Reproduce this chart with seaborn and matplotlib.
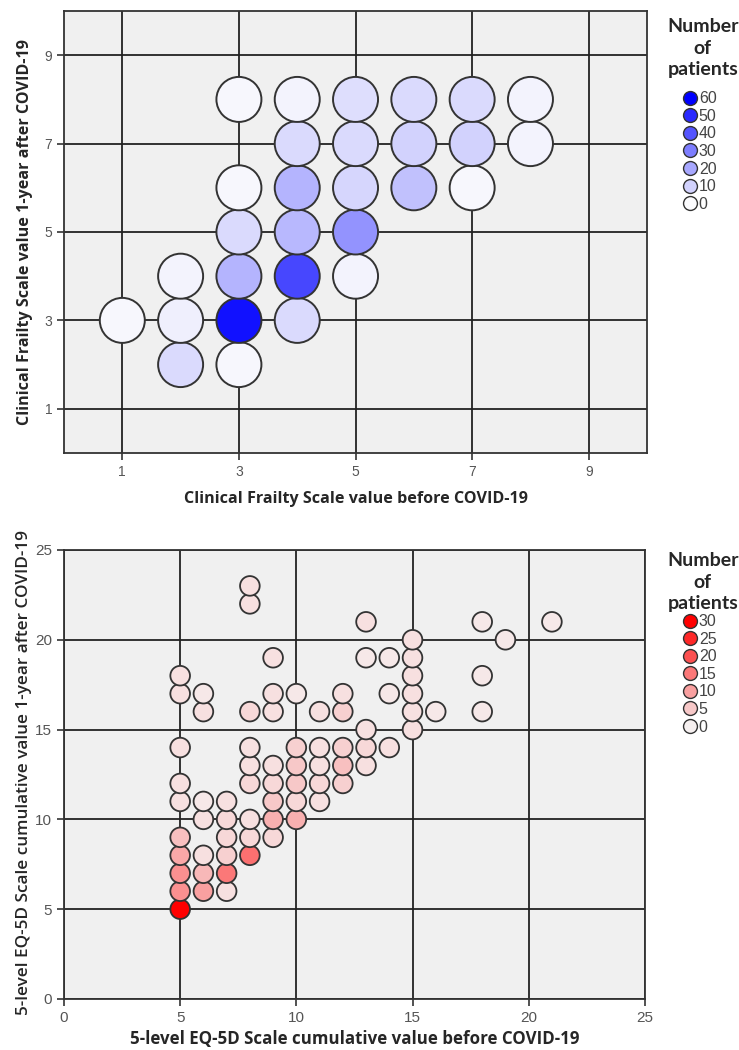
import pandas as pd
import seaborn as sns
import matplotlib.pyplot as plt
from matplotlib.colors import LinearSegmentedColormap, Normalize
from matplotlib.lines import Line2D

# Clinical Frailty Scale: before vs 1-year after, with patient counts
cfs_before = [1, 2, 2, 2, 3, 3, 3, 3, 3, 3, 4, 4, 4, 4, 4, 4, 5, 5, 5, 5, 5, 6, 6, 6, 7, 7, 7, 8, 8]
cfs_after = [3, 2, 3, 4, 2, 3, 4, 5, 6, 8, 3, 4, 5, 6, 7, 8, 4, 5, 6, 7, 8, 6, 7, 8, 6, 7, 8, 7, 8]
cfs_n = [1, 8, 3, 2, 1, 56, 17, 8, 1, 1, 8, 43, 16, 17, 8, 2, 2, 25, 9, 8, 7, 14, 10, 8, 1, 10, 8, 2, 2]
cfs_levels = [60, 50, 40, 30, 20, 10, 0]

# 5-level EQ-5D cumulative value: before vs 1-year after
eq_before = [5, 5, 5, 5, 5, 5, 5, 5, 5, 5,
             6, 6, 6, 6, 6, 6, 6,
             7, 7, 7, 7, 7, 7,
             8, 8, 8, 8, 8, 8, 8, 8, 8,
             9, 9, 9, 9, 9, 9, 9, 9,
             10, 10, 10, 10, 10, 10,
             11, 11, 11, 11, 11,
             12, 12, 12, 12, 12,
             13, 13, 13, 13, 13,
             14, 14, 14,
             15, 15, 15, 15, 15, 15,
             16, 18, 18, 18, 19, 21]
eq_after = [5, 6, 7, 8, 9, 11, 12, 14, 17, 18,
            6, 7, 8, 10, 11, 16, 17,
            6, 7, 8, 9, 10, 11,
            8, 9, 10, 12, 13, 14, 16, 22, 23,
            9, 10, 11, 12, 13, 16, 17, 19,
            10, 11, 12, 13, 14, 17,
            11, 12, 13, 14, 16,
            12, 13, 14, 16, 17,
            13, 14, 15, 19, 21,
            14, 17, 19,
            15, 16, 17, 18, 19, 20,
            16, 16, 18, 21, 20, 21]
eq_n = [30, 12, 12, 9, 6, 2, 2, 2, 2, 2,
        10, 7, 2, 2, 1, 2, 1,
        2, 15, 4, 3, 3, 2,
        16, 3, 2, 3, 2, 2, 3, 2, 2,
        3, 8, 5, 3, 2, 2, 2, 2,
        8, 3, 5, 5, 4, 1,
        2, 3, 2, 2, 2,
        4, 6, 4, 4, 2,
        2, 3, 2, 1, 2,
        2, 1, 1,
        2, 2, 2, 2, 2, 2,
        1, 1, 1, 1, 1, 1]
eq_levels = [30, 25, 20, 15, 10, 5, 0]

cfs = pd.DataFrame({'before': cfs_before, 'after': cfs_after, 'n': cfs_n})
eq = pd.DataFrame({'before': eq_before, 'after': eq_after, 'n': eq_n})

sns.set_style('white')
plt.rcParams['font.family'] = ['Liberation Sans', 'DejaVu Sans']

blues = LinearSegmentedColormap.from_list('wb', ['#fbfbfd', '#0000ff'])
reds = LinearSegmentedColormap.from_list('wr', ['#f6f0f0', '#ff0000'])
lab_font = dict(family=['Open Sans', 'DejaVu Sans'], fontweight='bold')


def style_ax(ax, lim, ticks, tick_size):
    ax.set_facecolor('#f0f0f0')
    ax.set_xlim(lim); ax.set_ylim(lim)
    ax.set_xticks(ticks); ax.set_yticks(ticks)
    ax.grid(True, color='#222222', linewidth=1.3)
    ax.set_axisbelow(True)
    for s in ax.spines.values():
        s.set_color('#333333'); s.set_linewidth(1.3)
    ax.tick_params(axis='both', direction='out', length=5, width=1.2, color='#333333',
                   labelcolor='#555555', labelsize=tick_size, bottom=True, left=True)


def add_legend(ax, levels, cmap, vmax, title_y, y):
    fig = ax.figure
    fig.text(0.951, title_y, 'Number\nof\npatients', ha='center', va='center', multialignment='center',
             fontsize=14, fontweight='bold', family=['Lato', 'DejaVu Sans'], linespacing=1.32)
    norm = Normalize(0, vmax)
    handles = [Line2D([], [], ls='', marker='o', markersize=10, markerfacecolor=cmap(norm(v)),
                      markeredgecolor='#333333', markeredgewidth=1) for v in levels]
    leg = ax.legend(handles, [str(v) for v in levels], loc='upper left',
                    bbox_to_anchor=(0.923, y), bbox_transform=fig.transFigure,
                    frameon=False, handletextpad=0.05, labelspacing=0.16, handlelength=1.0,
                    borderpad=0, borderaxespad=0, fontsize=11.5)
    for t in leg.get_texts():
        t.set_color('#444444')


fig = plt.figure(figsize=(7.39, 10.5), dpi=100)
ax1 = fig.add_axes([0.0866, 0.5686, 0.789, 0.4209])
ax2 = fig.add_axes([0.0866, 0.0486, 0.786, 0.4276])

sns.scatterplot(data=cfs, x='before', y='after', hue='n', palette=blues, hue_norm=(0, 60),
                s=1050, edgecolor='#333333', linewidth=1.4, legend=False, ax=ax1, zorder=3)
style_ax(ax1, (0, 10), [1, 3, 5, 7, 9], 10)
ax1.set_xlabel('Clinical Frailty Scale value before COVID-19', fontsize=11.6, **lab_font)
ax1.set_ylabel('Clinical Frailty Scale value 1-year after COVID-19', fontsize=11.6, **lab_font)
ax1.xaxis.set_label_coords(0.5, -0.086)
ax1.yaxis.set_label_coords(-0.053, 0.5)
add_legend(ax1, cfs_levels, blues, 60, 0.954, 0.913)

sns.scatterplot(data=eq, x='before', y='after', hue='n', palette=reds, hue_norm=(0, 30),
                s=200, edgecolor='#333333', linewidth=1.3, legend=False, ax=ax2, zorder=3)
style_ax(ax2, (0, 25), [0, 5, 10, 15, 20, 25], 11)
ax2.set_xlabel('5-level EQ-5D Scale cumulative value before COVID-19', fontsize=12.2, **lab_font)
ax2.set_ylabel('5-level EQ-5D Scale cumulative value 1-year after COVID-19', fontsize=12.3,
               family=['Open Sans', 'DejaVu Sans'], fontweight='semibold')
ax2.xaxis.set_label_coords(0.5, -0.07)
ax2.yaxis.set_label_coords(-0.055, 0.505)
add_legend(ax2, eq_levels, reds, 30, 0.4457, 0.415)

plt.savefig('out.png', dpi=100)
